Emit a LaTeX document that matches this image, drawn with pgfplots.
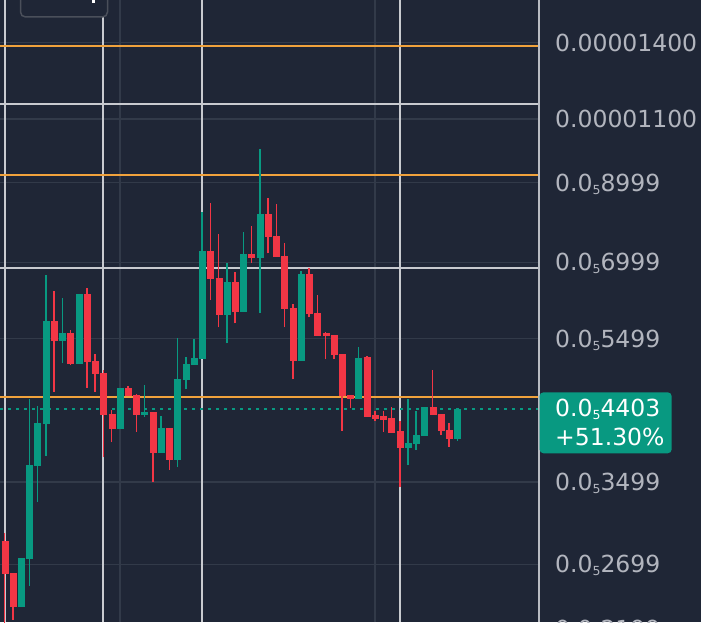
\documentclass[border=0pt]{standalone}
\usepackage{pgfplots}
\pgfplotsset{compat=1.18}
\usepackage{pgfplotstable}
\usepackage{fontspec}
\setmainfont{DejaVu Sans}
\definecolor{bg}{HTML}{1F2636}
\definecolor{cgreen}{HTML}{089981}
\definecolor{cred}{HTML}{F23645}
\definecolor{corange}{HTML}{F0A23C}
\definecolor{cwhite}{HTML}{C8CACF}
\definecolor{cgrid}{HTML}{323A49}
\definecolor{ctext}{HTML}{B2B5BE}
\definecolor{cborder}{HTML}{B8BBC2}
\definecolor{cbox}{HTML}{4A4F5A}
\newcommand{\sub}{\raisebox{-3pt}{\fontsize{12.5}{12.5}\selectfont 5}}
\newcommand{\lbl}{\fontsize{23.5}{28}\selectfont}

\pgfplotstableread{
x o h l c
0 2.905 2.979 2.150 2.626
1 2.626 2.626 2.264 2.366
2 2.366 2.753 2.366 2.753
3 2.748 4.546 2.520 3.692
4 3.692 4.447 3.285 4.215
5 4.215 6.723 3.798 5.815
6 5.815 6.395 4.648 5.477
7 5.477 6.253 5.093 5.599
8 5.599 5.652 5.061 5.093
9 5.093 6.332 5.093 6.332
10 6.332 6.453 4.707 5.126
11 5.126 5.240 4.648 4.935
12 4.935 4.982 3.786 4.336
13 4.336 4.392 3.970 4.149
14 4.149 4.707 4.149 4.707
15 4.707 4.737 4.590 4.604
16 4.604 4.620 4.097 4.336
17 4.336 4.752 4.295 4.364
18 4.364 4.364 3.499 3.846
19 3.846 4.309 3.846 4.149
20 4.149 4.149 3.634 3.756
21 3.756 5.511 3.668 4.843
22 4.843 5.186 4.687 5.077
23 5.077 5.489 5.077 5.169
24 5.169 8.210 5.169 7.253
25 7.253 8.447 6.214 6.654
26 6.654 7.645 5.701 5.939
27 5.939 6.976 5.420 6.563
28 6.563 6.781 5.774 5.988
29 5.988 7.693 5.988 7.177
30 7.177 7.847 6.989 7.110
31 7.110 10.007 5.969 8.151
32 8.151 8.565 7.200 7.587
33 7.587 8.412 7.120 7.139
34 7.139 7.431 5.701 6.053
35 6.053 6.135 4.838 5.130
36 5.130 6.815 5.130 6.745
37 6.745 6.867 5.883 5.958
38 5.958 6.313 5.551 5.551
39 5.594 5.622 5.150 5.551
40 5.551 5.551 5.150 5.235
41 5.235 5.235 4.114 4.594
42 4.594 4.594 4.415 4.556
43 4.556 5.362 4.556 5.169
44 5.186 5.207 4.299 4.299
45 4.323 4.382 4.246 4.278
46 4.309 4.382 4.100 4.268
47 4.278 4.437 4.087 4.087
48 4.100 4.246 3.441 3.899
49 3.899 4.542 3.692 3.953
50 3.953 4.382 3.870 4.058
51 4.058 4.429 4.058 4.429
52 4.429 4.982 4.336 4.336
53 4.336 4.336 4.058 4.123
54 4.123 4.219 3.911 4.016
55 4.016 4.403 3.986 4.403
}\candles

\begin{document}
\begin{tikzpicture}[x=1pt,y=1pt]
\useasboundingbox (0,0) rectangle (701,622);
\fill[bg] (0,0) rectangle (701,622);
\begin{axis}[
  at={(0,0)}, anchor=south west,
  scale only axis, width=538.7pt, height=622pt,
  xmin=-0.571, xmax=64.88,
  ymode=log, ymin=2.2494, ymax=16.012,
  axis line style={draw=none},
  xtick={14,45}, xticklabels={}, xmajorgrids,
  extra x ticks={0,12,24,48}, extra x tick labels={},
  extra x tick style={grid=major, major grid style={cwhite, line width=2pt}},
  ytick={2.699,3.499,5.499,6.999,8.999,11,14},
  yticklabels={0.0\sub2699,0.0\sub3499,0.0\sub5499,0.0\sub6999,0.0\sub8999,0.00001100,0.00001400},
  yticklabel pos=right,
  ymajorgrids,
  major grid style={cgrid, line width=1.5pt},
  major tick length=0pt,
  yticklabel style={anchor=west, inner sep=0pt, xshift=16.3pt, text height=17pt, text depth=0pt, font=\lbl, text=ctext},
]
\addplot[corange, line width=2pt, forget plot] coordinates {(-0.571,13.862) (64.88,13.862)};
\addplot[cwhite, line width=2pt, forget plot] coordinates {(-0.571,11.534) (64.88,11.534)};
\addplot[corange, line width=2pt, forget plot] coordinates {(-0.571,9.227) (64.88,9.227)};
\addplot[cwhite, line width=2pt, forget plot] coordinates {(-0.571,6.884) (64.88,6.884)};
\addplot[corange, line width=2pt, forget plot] coordinates {(-0.571,4.568) (64.88,4.568)};
\addplot[cgreen, line width=1.6pt, dash pattern=on 3pt off 5pt, forget plot] coordinates {(-0.571,4.403) (64.88,4.403)};
\pgfplotsinvokeforeach{0,...,55}{
  \pgfplotstablegetelem{#1}{o}\of\candles \let\vo\pgfplotsretval
  \pgfplotstablegetelem{#1}{h}\of\candles \let\vh\pgfplotsretval
  \pgfplotstablegetelem{#1}{l}\of\candles \let\vl\pgfplotsretval
  \pgfplotstablegetelem{#1}{c}\of\candles \let\vc\pgfplotsretval
  \ifdim\vc pt<\vo pt \def\col{cred}\else\def\col{cgreen}\fi
  \pgfmathsetmacro\xa{#1-0.383}
  \pgfmathsetmacro\xb{#1+0.383}
  \edef\tmp{\noexpand\addplot[draw=\col, line width=1.6pt, forget plot] coordinates {(#1,\vl) (#1,\vh)};
    \noexpand\addplot[fill=\col, draw=\col, line width=0.6pt, forget plot] coordinates {(\xa,\vo) (\xb,\vo) (\xb,\vc) (\xa,\vc)};}
  \tmp
}
\end{axis}
\draw[cborder, line width=2pt] (538.7,0) -- (538.7,622);
\draw[cbox, line width=1.5pt, fill=bg, rounded corners=5pt] (20.5,605) rectangle (107.5,640);
\fill[white] (92,619) rectangle (94.5,622);
\fill[cgreen, rounded corners=4pt] (539.5,168.7) rectangle (671.7,229.7);
\node[anchor=west, inner sep=0pt, text height=17pt, text depth=0pt, font=\lbl, text=white] at (555,213.7) {0.0\sub4403};
\node[anchor=west, inner sep=0pt, text height=17pt, text depth=0pt, font=\lbl, text=white] at (555,185.3) {+51.30\%};
\node[anchor=west, inner sep=0pt, text height=17pt, text depth=0pt, font=\lbl, text=ctext] at (555,-7.4) {0.0\sub2199};
\end{tikzpicture}
\end{document}
